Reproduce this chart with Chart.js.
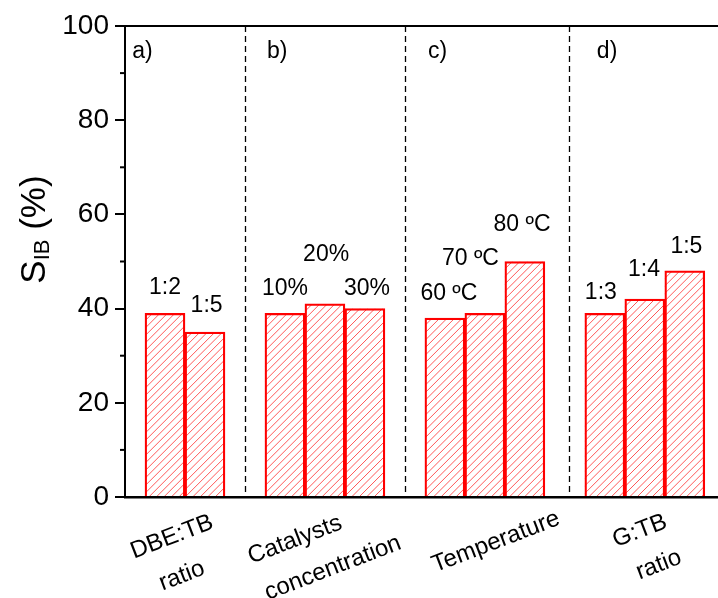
<!DOCTYPE html>
<html>
<head>
<meta charset="utf-8">
<script src="https://cdn.jsdelivr.net/npm/chart.js@4.4.0/dist/chart.umd.min.js"></script>
<style>
  html, body { margin: 0; padding: 0; background: #fff; }
  #wrap { width: 718px; height: 598px; position: relative; }
</style>
</head>
<body>
<div id="wrap"><canvas id="sibChart"></canvas></div>
<script>
'use strict';

// --- data ---
const GROUP_LINES = [['DBE:TB', 'ratio'], ['Catalysts', 'concentration'], ['Temperature'], ['G:TB', 'ratio']];
const PANEL_TAGS  = ['a)', 'b)', 'c)', 'd)'];
const BAR_LABELS  = ['1:2', '1:5', '10%', '20%', '30%', '60 ºC', '70 ºC', '80 ºC', '1:3', '1:4', '1:5'];
const BAR_VALUES  = [39, 35, 39, 41, 40, 38, 39, 50, 39, 42, 48];
const BAR_SLOTS   = [1, 2, 4, 5, 6, 8, 9, 10, 12, 13, 14];
const DIVIDERS    = [3, 7, 11.1];
const Y_MAJOR     = [0, 20, 40, 60, 80, 100];
const Y_MINOR     = [10, 30, 50, 70, 90];

// --- text placement (axis units / pixel nudges) ---
const BAR_LABEL_AT = [[1.0, 44.4], [2.04, 40.6], [4.0, 44.2], [5.03, 51.5], [6.05, 44.2],
                      [8.1, 43.2], [8.64, 50.6], [9.93, 57.8], [11.9, 43.4], [12.98, 48.3], [14.04, 53.2]];
const TAG_AT_X     = [0.18, 3.55, 7.58, 11.8];
const GROUP_MID    = [1.5, 5, 9, 13];
const GROUP_NUDGE  = [[[-13, 40], [-3, 79]], [[-30, 43], [8, 71]], [[11, 45]], [[-5, 34], [14, 68]]];

const FONT = '"Liberation Sans", Arial, sans-serif';
const RED = '#ff0000';
const HATCH_GAP = 7.5;

// diagonal hatching inside each bar, drawn before Chart.js strokes the outlines
const hatching = {
  id: 'hatching',
  beforeDatasetsDraw(chart) {
    const { ctx } = chart;
    const bars = chart.getDatasetMeta(0).data;
    ctx.save();
    ctx.strokeStyle = 'rgba(255,60,60,0.85)';
    ctx.lineWidth = 1;
    bars.forEach(b => {
      const { x, y, base, width } = b.getProps(['x', 'y', 'base', 'width'], true);
      const l = x - width / 2, r = x + width / 2;
      ctx.save();
      ctx.beginPath();
      ctx.rect(l, y, width, base - y);
      ctx.clip();
      ctx.beginPath();
      const h = base - y;
      for (let s = -h; s < width + h; s += HATCH_GAP) {
        ctx.moveTo(l + s, base);
        ctx.lineTo(l + s + h, y);
      }
      ctx.stroke();
      ctx.restore();
    });
    ctx.restore();
  }
};

const decorations = {
  id: 'decorations',
  afterDatasetsDraw(chart) {
    const { ctx, chartArea: a, scales: { x, y } } = chart;
    ctx.save();

    // dashed dividers
    ctx.strokeStyle = '#000';
    ctx.lineWidth = 1.3;
    ctx.setLineDash([6, 4]);
    DIVIDERS.forEach(d => {
      const px = Math.round(x.getPixelForValue(d)) + 0.5;
      ctx.beginPath(); ctx.moveTo(px, a.top); ctx.lineTo(px, a.bottom); ctx.stroke();
    });
    ctx.setLineDash([]);

    // top frame line
    ctx.lineWidth = 2;
    ctx.beginPath(); ctx.moveTo(a.left, a.top); ctx.lineTo(a.right, a.top); ctx.stroke();

    // minor ticks
    Y_MINOR.forEach(v => {
      const py = y.getPixelForValue(v);
      ctx.beginPath(); ctx.moveTo(a.left - 5, py); ctx.lineTo(a.left, py); ctx.stroke();
    });

    ctx.fillStyle = '#000';
    ctx.textAlign = 'center';
    ctx.textBaseline = 'middle';

    // bar labels
    ctx.font = '23px ' + FONT;
    BAR_LABELS.forEach((t, i) => {
      const [vx, vy] = BAR_LABEL_AT[i];
      ctx.fillText(t, x.getPixelForValue(vx), y.getPixelForValue(vy));
    });

    // panel tags
    ctx.textAlign = 'left';
    PANEL_TAGS.forEach((t, i) => {
      ctx.fillText(t, x.getPixelForValue(TAG_AT_X[i]), y.getPixelForValue(94.6));
    });

    // category labels, tilted
    ctx.font = '24px ' + FONT;
    ctx.textAlign = 'center';
    GROUP_LINES.forEach((lines, g) => {
      const cx = x.getPixelForValue(GROUP_MID[g]);
      lines.forEach((line, k) => {
        const [dx, dy] = GROUP_NUDGE[g][k];
        ctx.save();
        ctx.translate(cx + dx, a.bottom + dy);
        ctx.rotate(-21 * Math.PI / 180);
        ctx.fillText(line, 0, 0);
        ctx.restore();
      });
    });

    // y title S_IB (%)
    const big = 35, small = 22;
    ctx.save();
    ctx.translate(45, (a.top + a.bottom) / 2 - 32);
    ctx.rotate(-Math.PI / 2);
    ctx.textBaseline = 'alphabetic';
    ctx.textAlign = 'left';
    ctx.font = big + 'px ' + FONT;
    const wS = ctx.measureText('S').width;
    const wRest = ctx.measureText(' (%)').width;
    ctx.font = small + 'px ' + FONT;
    const wSub = ctx.measureText('IB').width;
    let px = -(wS + wSub + wRest) / 2;
    ctx.font = big + 'px ' + FONT;
    ctx.fillText('S', px, 0); px += wS;
    ctx.font = small + 'px ' + FONT;
    ctx.fillText('IB', px, 4); px += wSub;
    ctx.font = big + 'px ' + FONT;
    ctx.fillText(' (%)', px, 0);
    ctx.restore();

    ctx.restore();
  }
};

const ctx = document.getElementById('sibChart').getContext('2d');
new Chart(ctx, {
  type: 'bar',
  data: {
    datasets: [{
      data: BAR_SLOTS.map((s, i) => ({ x: s, y: BAR_VALUES[i] })),
      backgroundColor: 'rgba(0,0,0,0)',
      borderColor: RED,
      borderWidth: 1.6,
      borderSkipped: 'bottom',
      barPercentage: 1,
      categoryPercentage: 1,
    }],
  },
  options: {
    responsive: true,
    maintainAspectRatio: false,
    animation: false,
    layout: { padding: { top: 26, right: 0, bottom: 101, left: 0 } },
    plugins: { legend: { display: false }, tooltip: { enabled: false } },
    scales: {
      x: {
        type: 'linear',
        offset: false,
        min: 0,
        max: 14.83,
        grid: { display: false },
        ticks: { display: false },
        border: { display: true, color: '#000', width: 2.5 },
        afterFit: s => { s.height = 0; },
      },
      y: {
        min: 0,
        max: 100,
        afterBuildTicks: s => { s.ticks = Y_MAJOR.map(v => ({ value: v })); },
        grid: { drawOnChartArea: false, drawTicks: true, tickLength: 10, color: '#000', lineWidth: 2 },
        border: { display: true, color: '#000', width: 2 },
        ticks: { padding: 6, color: '#000', font: { family: FONT, size: 28 } },
        afterFit: s => { s.width = 125; },
      },
    },
  },
  plugins: [hatching, decorations],
});
</script>
</body>
</html>
